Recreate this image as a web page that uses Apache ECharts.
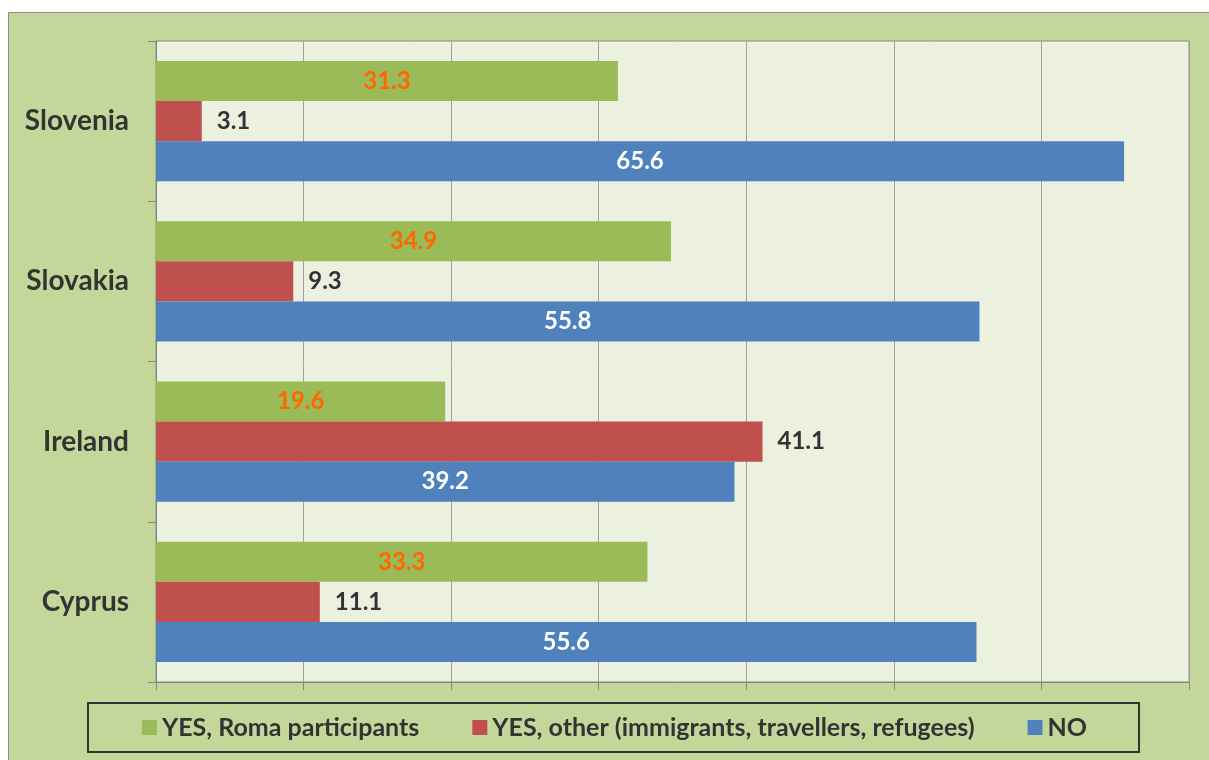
<!DOCTYPE html>
<html>
<head>
<meta charset="utf-8">
<script src="https://cdn.jsdelivr.net/npm/echarts@6/dist/echarts.min.js"></script>
<style>
  html, body { margin: 0; padding: 0; background: #fff; }
  #chart { width: 1209px; height: 760px; }
</style>
</head>
<body>
<div id="chart"></div>
<script>
const countries = ['Slovenia', 'Slovakia', 'Ireland', 'Cyprus']
const seriesNames = ['YES, Roma participants', 'YES, other (immigrants, travellers, refugees)', 'NO']
const yesRoma = [31.3, 34.9, 19.6, 33.3]
const yesOther = [3.1, 9.3, 41.1, 11.1]
const no = [65.6, 55.8, 39.2, 55.6]

const FONT = 'Lato'
const DARK = '#333333'

const chart = echarts.init(document.getElementById('chart'))

function barLabel(position, color, distance) {
  return {
    show: true,
    position: position,
    distance: distance || 5,
    color: color,
    fontFamily: FONT,
    fontWeight: 'bold',
    fontSize: 24,
    formatter: p => p.value.toFixed(1)
  }
}

const option = {
  backgroundColor: '#ffffff',
  animation: false,
  graphic: [{
    type: 'rect',
    z: -10,
    silent: true,
    shape: { x: 8.5, y: 12.5, width: 1220, height: 760 },
    style: { fill: '#C4D79B', stroke: '#8E8E8E', lineWidth: 1 }
  }],
  grid: {
    left: 156,
    right: 20,
    top: 41,
    bottom: 78,
    show: true,
    backgroundColor: '#EBF1DE',
    borderColor: '#868686',
    borderWidth: 1
  },
  legend: {
    left: 88,
    top: 703,
    data: seriesNames,
    icon: 'rect',
    itemWidth: 15,
    itemHeight: 15,
    itemGap: 53,
    padding: [12, 52, 12, 54],
    borderColor: '#333333',
    borderWidth: 2,
    selectedMode: false,
    textStyle: {
      fontFamily: FONT,
      fontWeight: 'bold',
      fontSize: 25,
      color: DARK
    }
  },
  xAxis: {
    type: 'value',
    min: 0,
    max: 70,
    interval: 10,
    axisLabel: { show: false },
    axisLine: { show: true, lineStyle: { color: '#868686' } },
    axisTick: { show: true, length: 8, lineStyle: { color: '#868686' } },
    splitLine: { show: true, lineStyle: { color: '#A0A0A0', width: 1 } }
  },
  yAxis: {
    type: 'category',
    inverse: true,
    data: countries,
    axisLine: { show: true, lineStyle: { color: '#868686' } },
    axisTick: { show: true, length: 8, lineStyle: { color: '#868686' } },
    axisLabel: {
      margin: 27,
      fontFamily: FONT,
      fontWeight: 'bold',
      fontSize: 28,
      color: DARK
    }
  },
  series: [{
    name: seriesNames[0],
    type: 'bar',
    barGap: '0%',
    barCategoryGap: '25%',
    itemStyle: { color: '#9BBB59' },
    label: barLabel('inside', '#FF6600'),
    data: yesRoma
  }, {
    name: seriesNames[1],
    type: 'bar',
    itemStyle: { color: '#C0504D' },
    label: barLabel('right', DARK, 15),
    data: yesOther
  }, {
    name: seriesNames[2],
    type: 'bar',
    itemStyle: { color: '#4F81BD' },
    label: barLabel('inside', '#ffffff'),
    data: no
  }]
}

chart.setOption(option)
</script>
</body>
</html>
